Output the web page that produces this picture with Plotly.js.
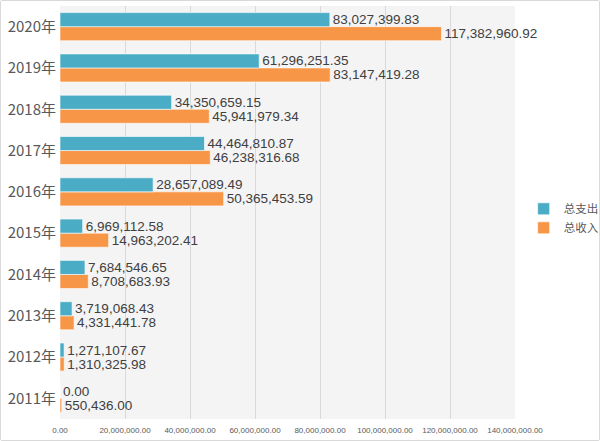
<!DOCTYPE html>
<html>
<head>
<meta charset="utf-8">
<script src="https://cdn.plot.ly/plotly-3.0.1.min.js"></script>
<style>
html,body{margin:0;padding:0;background:#fff;}
#wrap{width:598px;height:439px;border:1px solid #d9d9d9;border-radius:2px;overflow:hidden;}
#chart{width:598px;height:439px;}
</style>
</head>
<body>
<div id="wrap"><div id="chart"></div></div>
<script>
const years = ["2011年","2012年","2013年","2014年","2015年","2016年","2017年","2018年","2019年","2020年"];
const expense = [0, 1271107.67, 3719068.43, 7684546.65, 6969112.58, 28657089.49, 44464810.87, 34350659.15, 61296251.35, 83027399.83];
const income = [550436.00, 1310325.98, 4331441.78, 8708683.93, 14963202.41, 50365453.59, 46238316.68, 45941979.34, 83147419.28, 117382960.92];
const seriesNames = ["总支出","总收入"];
const xTickVals = [0, 20000000, 40000000, 60000000, 80000000, 100000000, 120000000, 140000000];

const labelFont = {family: "Liberation Sans, Arial, sans-serif", size: 13.5, color: "#404040"};

const traces = [
  {
    type: "bar", orientation: "h", name: seriesNames[1],
    y: years, x: income,
    marker: {color: "#f79646", line: {color: "#ffffff", width: 0.6}},
    text: income, texttemplate: "%{x:,.2f}", textposition: "outside",
    textfont: labelFont, cliponaxis: false, constraintext: "none",
    hoverinfo: "skip"
  },
  {
    type: "bar", orientation: "h", name: seriesNames[0],
    y: years, x: expense,
    marker: {color: "#4bacc6", line: {color: "#ffffff", width: 0.6}},
    text: expense, texttemplate: "%{x:,.2f}", textposition: "outside",
    textfont: labelFont, cliponaxis: false, constraintext: "none",
    hoverinfo: "skip"
  }
];

const layout = {
  width: 598, height: 439,
  margin: {l: 59, r: 84, t: 5, b: 21, autoexpand: false},
  paper_bgcolor: "#ffffff",
  plot_bgcolor: "#f4f4f4",
  barmode: "group",
  bargap: 0.32,
  bargroupgap: 0,
  showlegend: true,
  legend: {
    xref: "container", yref: "container",
    x: 0.874, y: 0.505, xanchor: "left", yanchor: "middle",
    traceorder: "reversed",
    font: {family: "Noto Sans CJK SC, sans-serif", size: 11.5, color: "#595959"},
    itemwidth: 30, tracegroupgap: 0,
    bgcolor: "rgba(0,0,0,0)"
  },
  xaxis: {
    range: [0, 140000000],
    tickvals: xTickVals,
    tickformat: ",.2f",
    tickfont: {family: "Liberation Sans, Arial, sans-serif", size: 8, color: "#595959"},
    showgrid: true, gridcolor: "#d9d9d9", gridwidth: 1,
    zeroline: false, showline: false, ticks: "",
    ticklabelstandoff: 5,
    automargin: false,
    fixedrange: true
  },
  yaxis: {
    type: "category",
    categoryorder: "array", categoryarray: years,
    tickfont: {family: "Noto Sans CJK SC, sans-serif", size: 15, color: "#595959"},
    showgrid: false, zeroline: false, showline: false, ticks: "",
    ticklabelstandoff: 3,
    automargin: false,
    fixedrange: true
  }
};

Plotly.newPlot("chart", traces, layout, {displayModeBar: false, staticPlot: true});
</script>
</body>
</html>
